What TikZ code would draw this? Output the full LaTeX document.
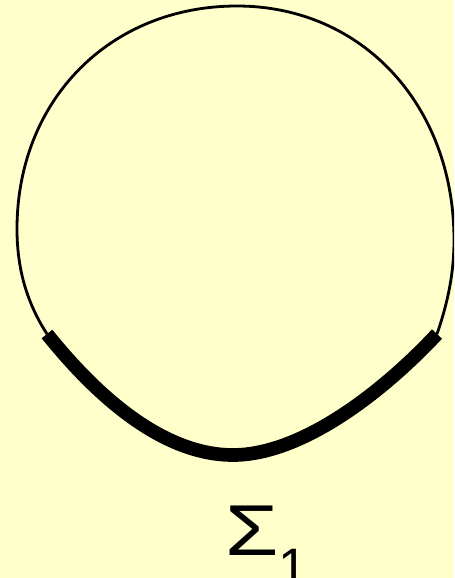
\documentclass[tikz,border=0pt]{standalone}
\usepackage{fontspec}
\setmainfont{Liberation Sans}
\definecolor{fons}{RGB}{255,255,204}
\begin{document}
\begin{tikzpicture}[x=0.02cm,y=-0.02cm]
		\useasboundingbox (0,0) rectangle (454,578);
		\clip (0,0) rectangle (454,578);
		\fill[fons] (0,0) rectangle (454,578);
		
		% corba tancada (part fina)
		\draw[line width=1.6pt] (47,334) .. controls (25,300) and (17,265) .. (17,229)
			.. controls (17,100) and (110,6) .. (237,6)
			.. controls (362,6) and (454,105) .. (454,240)
			.. controls (454,275) and (447,305) .. (437,334);
		
		% tros gruixut
		\draw[line width=7.8pt] (47,334) .. controls (100,400) and (165,455) .. (233,455)
			.. controls (300,455) and (380,395) .. (437,334);
		
		\node[anchor=base west,inner sep=0pt,font=\fontsize{41}{41}\selectfont] (sigma) at (225,555) {\scalebox{1.2}[1]{Σ}\raisebox{-17.6pt}{\fontsize{30}{30}\selectfont 1}};
	\end{tikzpicture}
\end{document}
